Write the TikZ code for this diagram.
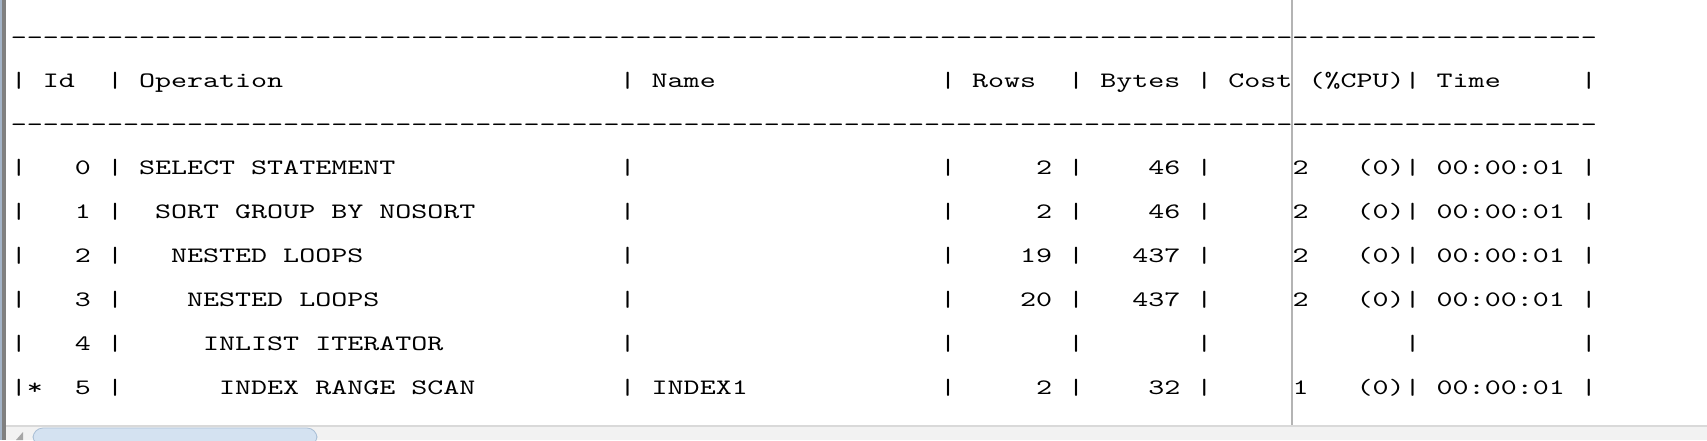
\documentclass[tikz,border=0pt]{standalone}
\usepackage{fontspec}
\newfontfamily\planfont[FakeStretch=1.387]{lmmono10-regular.otf}
\definecolor{edge}{HTML}{A4B4C8}
\definecolor{frame}{HTML}{808080}
\definecolor{guide}{HTML}{B4B4B4}
\definecolor{barbg}{HTML}{F2F2F2}
\definecolor{barline}{HTML}{D9D9D9}
\definecolor{thumb}{HTML}{D4E2F1}
\definecolor{thumbline}{HTML}{AABFD6}
% character column -> pixel
\newcommand{\col}[1]{10.5+16.02*#1}

\begin{document}
\begin{tikzpicture}[x=0.5pt,y=-0.5pt,
	plan/.style={font=\planfont\fontsize{11pt}{11pt}\selectfont, anchor=base west, inner sep=0pt, text=black}]
	\useasboundingbox (0,0) rectangle (1707,440);
	\fill[white] (0,0) rectangle (1707,440);
	
	% WINDOW FRAME
	\fill[edge] (0,0) rectangle (2,440); \fill[frame] (2,0) rectangle (6,440);
	\fill[barbg] (6,426) rectangle (1707,440); \draw[barline, line width=1pt] (6,426)--(1707,426);
	\fill[gray!70] (16,440)--(23,432)--(23,440)--cycle;
	\draw[thumbline, fill=thumb, rounded corners=5pt] (33,446) rectangle (317,428);
	
	% RULES
	\node[plan] (rule1) at ({\col{0}},44) {\foreach \i in {1,...,99}{-}};
	\node[plan] (rule2) at ({\col{0}},131) {\foreach \i in {1,...,99}{-}};
	
	% PIPES
	\foreach \r in {87,174,218,262,306,350,394}
		\foreach \k in {0,6,38,58,66,74,87,98}
			\node[plan] (p\r-\k) at ({\col{\k}},\r) {|};
	
	% HEADER
	\node[plan] (hid) at ({\col{2}},87) {Id};
	\node[plan] (hop) at ({\col{8}},87) {Operation};
	\node[plan] (hname) at ({\col{40}},87) {Name};
	\node[plan] (hrows) at ({\col{60}},87) {Rows};
	\node[plan] (hbytes) at ({\col{68}},87) {Bytes};
	\node[plan] (hcost) at ({\col{76}},87) {Cost (\%CPU)};
	\node[plan] (htime) at ({\col{89}},87) {Time};
	
	% ROWS
	\node[plan] (id0) at ({\col{4}},174) {0}; \node[plan] (op0) at ({\col{8}},174) {SELECT STATEMENT};
	\node[plan] (rows0) at ({\col{64}},174) {2}; \node[plan] (bytes0) at ({\col{71}},174) {46};
	\node[plan] (cost0) at ({\col{80}},174) {2};
	
	\node[plan] (id1) at ({\col{4}},218) {1}; \node[plan] (op1) at ({\col{9}},218) {SORT GROUP BY NOSORT};
	\node[plan] (rows1) at ({\col{64}},218) {2}; \node[plan] (bytes1) at ({\col{71}},218) {46};
	\node[plan] (cost1) at ({\col{80}},218) {2};
	
	\node[plan] (id2) at ({\col{4}},262) {2}; \node[plan] (op2) at ({\col{10}},262) {NESTED LOOPS};
	\node[plan] (rows2) at ({\col{63}},262) {19}; \node[plan] (bytes2) at ({\col{70}},262) {437};
	\node[plan] (cost2) at ({\col{80}},262) {2};
	
	\node[plan] (id3) at ({\col{4}},306) {3}; \node[plan] (op3) at ({\col{11}},306) {NESTED LOOPS};
	\node[plan] (rows3) at ({\col{63}},306) {20}; \node[plan] (bytes3) at ({\col{70}},306) {437};
	\node[plan] (cost3) at ({\col{80}},306) {2};
	
	\node[plan] (id4) at ({\col{4}},350) {4}; \node[plan] (op4) at ({\col{12}},350) {INLIST ITERATOR};
	
	\node[plan] (star5) at ({\col{1}},394) {*}; \node[plan] (id5) at ({\col{4}},394) {5};
	\node[plan] (op5) at ({\col{13}},394) {INDEX RANGE SCAN}; \node[plan] (name5) at ({\col{40}},394) {INDEX1};
	\node[plan] (rows5) at ({\col{64}},394) {2}; \node[plan] (bytes5) at ({\col{71}},394) {32};
	\node[plan] (cost5) at ({\col{80}},394) {1};
	
	% CPU AND TIME
	\foreach \r in {174,218,262,306,394} {
		\node[plan] (cpu\r) at ({\col{84}},\r) {(0)};
		\node[plan] (time\r) at ({\col{89}},\r) {00:00:01};
	}
	
	% EDITOR GUIDE
	\draw[guide, line width=1pt] (1292,0)--(1292,425);
\end{tikzpicture}
\end{document}
